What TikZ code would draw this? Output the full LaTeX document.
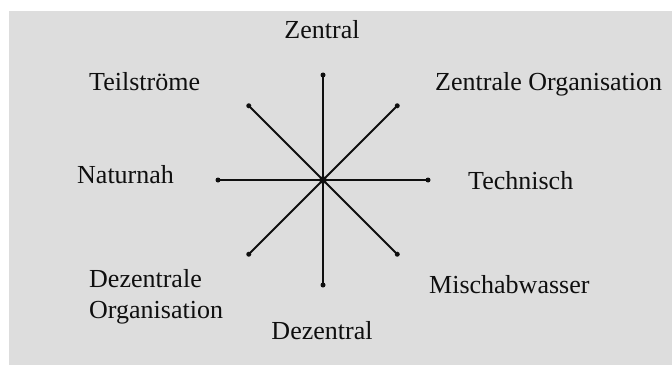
\documentclass[tikz,border=0pt]{standalone}
\usepackage{fontspec}
\setmainfont{Liberation Serif}
\usepackage{tikz}
\usetikzlibrary{positioning,calc}
\definecolor{panel}{RGB}{221,221,221}
\definecolor{ink}{RGB}{15,15,15}
\tikzset{
  spoke/.style={line width=1.9pt,ink},
  lbl/.style={inner sep=0pt,text=ink,font=\fontsize{26}{31}\selectfont},
}

\begin{document}
\begin{tikzpicture}[x=1pt,y=1pt]
  \useasboundingbox (0,0) rectangle (672,365);
  \fill[panel] (9,0) rectangle (672,354);
  \coordinate (mitte) at (323,185);
  \foreach \a/\n in {0/tech,45/zorg,90/zent,135/teil,180/natur,225/dorg,270/dezent,315/misch} {
    \coordinate (\n) at ($(mitte)+(\a:105)$);
    \draw[spoke] (mitte) -- (\n);
    \fill[ink] (\n) circle (2.5pt);
  }
  \fill[ink] (mitte) circle (3.8pt);
  \node[lbl,anchor=base] (lzent) at (322,326) {Zentral};
  \node[lbl,anchor=base west] (lteil) at (89,274) {Teilströme};
  \node[lbl,anchor=base west] (lzorg) at (435,274) {Zentrale Organisation};
  \node[lbl,anchor=base west] (lnatur) at (77,182) {Naturnah};
  \node[lbl,anchor=base west] (ltech) at (468,176) {Technisch};
  \node[lbl,anchor=north west,align=left] (ldorg) at (89,96) {Dezentrale\\Organisation};
  \node[lbl,anchor=base west] (lmisch) at (429,72) {Mischabwasser};
  \node[lbl,anchor=base] (ldezent) at (322,26) {Dezentral};
\end{tikzpicture}
\end{document}
